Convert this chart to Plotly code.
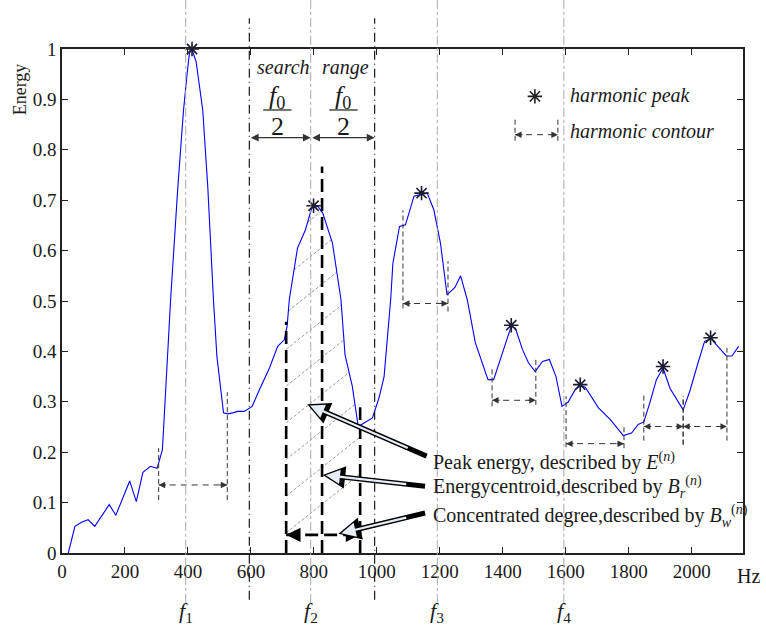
import numpy as np
import plotly.graph_objects as go

# ---------------- data ----------------
freq_hz = [20, 41, 62, 83, 104, 150, 171, 215, 236, 257, 281, 302, 319, 345, 368, 386, 398, 405, 413,
           426, 447, 463, 481, 492, 513, 527, 542, 558, 579, 604, 627, 659, 685, 706, 715, 722, 748,
           773, 793, 812, 828, 859, 886, 899, 922, 941, 986, 1007, 1023, 1044, 1051, 1072, 1091, 1118,
           1139, 1160, 1181, 1202, 1223, 1248, 1266, 1287, 1313, 1332, 1353, 1371, 1400, 1427, 1440,
           1463, 1482, 1503, 1526, 1548, 1569, 1588, 1607, 1630, 1646, 1662, 1704, 1741, 1783, 1809,
           1830, 1848, 1867, 1888, 1909, 1931, 1973, 1994, 2020, 2041, 2062, 2089, 2110, 2128, 2149]
energy = [0.0, 0.053, 0.061, 0.066, 0.053, 0.096, 0.075, 0.143, 0.102, 0.160, 0.172, 0.168, 0.205, 0.503,
          0.727, 0.879, 0.955, 0.992, 0.999, 0.975, 0.879, 0.727, 0.503, 0.390, 0.278, 0.276, 0.278, 0.281,
          0.281, 0.291, 0.324, 0.367, 0.410, 0.423, 0.450, 0.503, 0.605, 0.641, 0.684, 0.688, 0.675, 0.615,
          0.503, 0.393, 0.331, 0.251, 0.268, 0.308, 0.350, 0.503, 0.575, 0.648, 0.651, 0.708, 0.711, 0.714,
          0.681, 0.615, 0.512, 0.527, 0.550, 0.503, 0.417, 0.384, 0.344, 0.344, 0.397, 0.450, 0.446, 0.403,
          0.377, 0.360, 0.380, 0.384, 0.350, 0.291, 0.299, 0.324, 0.332, 0.329, 0.288, 0.265, 0.233, 0.238,
          0.255, 0.260, 0.298, 0.344, 0.367, 0.327, 0.284, 0.321, 0.377, 0.420, 0.425, 0.407, 0.391, 0.391,
          0.410]

peak_hz = [413, 799, 1142, 1427, 1646, 1909, 2060]
peak_energy = [1.0, 0.689, 0.714, 0.452, 0.334, 0.370, 0.427]

harmonic_hz = [393, 790, 1192, 1594]
harmonic_labels = ["<i>f</i><sub>1</sub>", "<i>f</i><sub>2</sub>", "<i>f</i><sub>3</sub>", "<i>f</i><sub>4</sub>"]
search_hz = [595, 993]

# harmonic contours
contour_left = [307, 1083, 1366, 1601, 1848, 1973]
contour_right = [525, 1226, 1505, 1785, 1973, 2112]
contour_level = [0.135, 0.495, 0.303, 0.217, 0.251, 0.251]
contour_left_top = [0.208, 0.680, 0.367, 0.311, 0.314, 0.311]
contour_left_bot = [0.105, 0.485, 0.291, 0.210, 0.223, 0.215]
contour_right_top = [0.319, 0.579, 0.389, 0.253, 0.311, 0.407]
contour_right_bot = [0.105, 0.479, 0.294, 0.208, 0.215, 0.223]

# second-harmonic descriptors
feature_hz = [712, 826, 947]
feature_top = [0.459, 0.767, 0.289]
width_level = 0.036

x_ticks = list(range(0, 2001, 200))
y_ticks = [round(0.1 * i, 1) for i in range(11)]
y_tick_text = ["0", "0.1", "0.2", "0.3", "0.4", "0.5", "0.6", "0.7", "0.8", "0.9", "1"]

callout_text = ["Peak energy, described by <i>E</i><sup>(<i>n</i>)</sup>",
                "Energycentroid,described by <i>B</i><sub><i>r</i></sub><sup>(<i>n</i>)</sup>",
                "Concentrated degree,described by <i>B</i><sub><i>w</i></sub><sup>(<i>n</i>)</sup>"]
callout_text_y = [0.182, 0.130, 0.073]
callout_tail = [(1163, 0.191), (1158, 0.132), (1158, 0.080)]
callout_head = [(779, 0.295), (828, 0.155), (878, 0.038)]

FONT = "Liberation Serif, DejaVu Serif, serif"
INK = "#1a1a1a"

fig = go.Figure()

# ---------------- hatch (derived from curve) ----------------
xs = np.linspace(feature_hz[0], feature_hz[2], 400)
curve_at = np.interp(xs, freq_hz, energy)
slope = 0.8 * (681 / 2163) / 504
for k in range(0, 10):
    y0 = 0.040 + 0.0728 * k
    yl = y0 + slope * (xs - feature_hz[0])
    yl = np.where((yl <= curve_at) & (yl >= 0), yl, np.nan)
    if np.all(np.isnan(yl)):
        continue
    fig.add_trace(go.Scatter(x=xs, y=yl, mode="lines", line=dict(color="#9a9a9a", width=1, dash="3px,2px"),
                             hoverinfo="skip", showlegend=False, connectgaps=False))

# ---------------- curve ----------------
fig.add_trace(go.Scatter(x=freq_hz, y=energy, mode="lines", line=dict(color="#0000ff", width=1.1),
                         showlegend=False))
fig.add_trace(go.Scatter(x=peak_hz, y=peak_energy, mode="markers",
                         marker=dict(symbol="asterisk-open", size=12, color="#1a1a30",
                                     line=dict(color="#1a1a30", width=1.6)),
                         showlegend=False, cliponaxis=False))

# ---------------- shapes ----------------
for h in harmonic_hz:
    fig.add_shape(type="line", xref="x", yref="paper", x0=h, x1=h, y0=-0.099, y1=1.097,
                  line=dict(color="#aaaaaa", width=1, dash="dashdot"))
for s in search_hz:
    fig.add_shape(type="line", xref="x", yref="paper", x0=s, x1=s, y0=-0.093, y1=1.061,
                  line=dict(color=INK, width=1.2, dash="9px,4px,1px,4px"))


def head(x, y, direction, width=1.0, size=1.3, color="#333333"):
    fig.add_annotation(x=x, y=y, xref="x", yref="y", ax=-9 * direction, ay=0, text="",
                       showarrow=True, arrowhead=2, arrowsize=size, arrowwidth=width, arrowcolor=color)


for i in range(len(contour_left)):
    l, r, lv = contour_left[i], contour_right[i], contour_level[i]
    fig.add_shape(type="line", x0=l, x1=l, y0=contour_left_bot[i], y1=contour_left_top[i],
                  line=dict(color="#333333", width=1, dash="5px,3px"))
    fig.add_shape(type="line", x0=r, x1=r, y0=contour_right_bot[i], y1=contour_right_top[i],
                  line=dict(color="#333333", width=1, dash="5px,3px"))
    fig.add_shape(type="line", x0=l, x1=r, y0=lv, y1=lv, line=dict(color="#333333", width=1, dash="6px,5px"))
    head(l, lv, -1)
    head(r, lv, 1)

# legend block
leg_l, leg_r = 1439, 1575
fig.add_shape(type="line", x0=leg_l, x1=leg_l, y0=0.818, y1=0.860, line=dict(color="#333333", width=1, dash="5px,3px"))
fig.add_shape(type="line", x0=leg_r, x1=leg_r, y0=0.818, y1=0.860, line=dict(color="#333333", width=1, dash="5px,3px"))
fig.add_shape(type="line", x0=leg_l, x1=leg_r, y0=0.830, y1=0.830, line=dict(color="#333333", width=1, dash="6px,5px"))
head(leg_l, 0.830, -1)
head(leg_r, 0.830, 1)
fig.add_trace(go.Scatter(x=[1502], y=[0.906], mode="markers",
                         marker=dict(symbol="asterisk-open", size=12, color="#202020",
                                     line=dict(color="#202020", width=1.6)),
                         showlegend=False))
fig.add_annotation(x=1607, y=0.907, text="<i>harmonic peak</i>", showarrow=False, xanchor="left",
                   font=dict(family=FONT, size=20, color=INK))
fig.add_annotation(x=1607, y=0.838, text="<i>harmonic contour</i>", showarrow=False, xanchor="left",
                   font=dict(family=FONT, size=20, color=INK))

# search range
fig.add_annotation(x=harmonic_hz[1], y=0.824, ax=search_hz[0], ay=0.824, axref="x", ayref="y", text="",
                   showarrow=True, arrowside="end+start", arrowhead=2, arrowsize=1.2, arrowwidth=1.3,
                   arrowcolor="#333333")
fig.add_annotation(x=search_hz[1], y=0.824, ax=harmonic_hz[1], ay=0.824, axref="x", ayref="y", text="",
                   showarrow=True, arrowside="end+start", arrowhead=2, arrowsize=1.2, arrowwidth=1.3,
                   arrowcolor="#333333")
fig.add_annotation(x=705, y=0.964, text="<i>search</i>", showarrow=False, font=dict(family=FONT, size=20, color=INK))
fig.add_annotation(x=900, y=0.964, text="<i>range</i>", showarrow=False, font=dict(family=FONT, size=20, color=INK))
for cx in [684, 894]:
    fig.add_annotation(x=cx, y=0.905, text="<i>f</i><sub>0</sub>", showarrow=False,
                       font=dict(family=FONT, size=26, color=INK))
    fig.add_annotation(x=cx, y=0.847, text="2", showarrow=False, font=dict(family=FONT, size=26, color=INK))
    fig.add_shape(type="line", x0=cx - 45, x1=cx + 45, y0=0.879, y1=0.879, line=dict(color=INK, width=1.2))

# descriptors
for i in range(3):
    fig.add_shape(type="line", x0=feature_hz[i], x1=feature_hz[i], y0=0, y1=feature_top[i],
                  line=dict(color="#000000", width=2.6, dash="13px,6px"))
fig.add_shape(type="line", x0=feature_hz[0], x1=feature_hz[2], y0=width_level, y1=width_level,
              line=dict(color="#000000", width=2.6, dash="13px,6px"))
head(feature_hz[0], width_level, -1, width=2.4, size=1.2, color="#000000")
head(feature_hz[2], width_level, 1, width=2.4, size=1.2, color="#000000")

# hollow call-out arrows
for (tx, ty), (hx, hy), txt, py in zip(callout_tail, callout_head, callout_text, callout_text_y):
    fig.add_annotation(x=hx, y=hy, ax=tx, ay=ty, axref="x", ayref="y", text="", showarrow=True,
                       arrowhead=2, arrowsize=0.9, arrowwidth=5, arrowcolor="#000000")
    fig.add_annotation(x=hx, y=hy, ax=tx - 60, ay=ty - (hy - ty) * 60 / (hx - tx), axref="x", ayref="y",
                       text="", showarrow=True, arrowhead=2, arrowsize=1.3, arrowwidth=2.2,
                       arrowcolor="#e8eef8", standoff=3)
    fig.add_annotation(x=1172, y=py, text=txt, showarrow=False, xanchor="left",
                       font=dict(family=FONT, size=20, color=INK))

# f labels
for h, lab in zip(harmonic_hz, harmonic_labels):
    fig.add_annotation(x=h, y=-0.117, yref="paper", yanchor="middle", text=lab, showarrow=False,
                       font=dict(family=FONT, size=22, color=INK))

fig.add_annotation(x=1.0, y=-0.045, xref="paper", yref="paper", text="Hz", showarrow=False, xanchor="left",
                   yanchor="middle", xshift=-8, font=dict(family=FONT, size=20, color=INK))
fig.add_annotation(x=-0.0617, y=0.92, xref="paper", yref="paper", text="Energy", showarrow=False,
                   xanchor="center", yanchor="middle", textangle=-90, font=dict(family=FONT, size=18, color=INK))

axis_common = dict(showline=True, linecolor="#222222", linewidth=1.6, mirror="allticks", ticks="inside",
                   ticklen=6, tickcolor="#222222", tickwidth=1.2, showgrid=False, zeroline=False,
                   tickfont=dict(family=FONT, size=19, color=INK))
fig.update_xaxes(range=[0, 2163], tickvals=x_ticks, ticktext=[str(v) for v in x_ticks], **axis_common)
fig.update_yaxes(range=[0, 1], tickvals=y_ticks, ticktext=y_tick_text, **axis_common)

fig.update_layout(width=766, height=633, margin=dict(l=62, r=23, t=49, b=80),
                  paper_bgcolor="white", plot_bgcolor="white", showlegend=False,
                  font=dict(family=FONT, color=INK))

fig.write_html("out.html")
